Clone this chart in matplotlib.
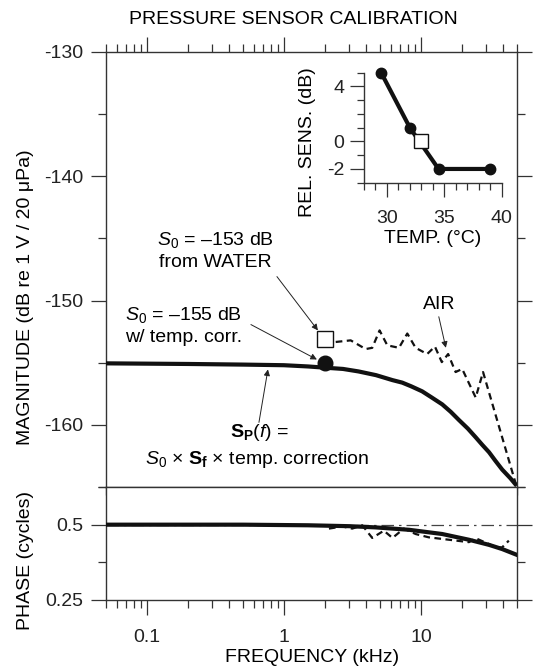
"""Pressure sensor calibration: magnitude and phase response with temperature inset."""

import matplotlib

matplotlib.use("Agg")

import matplotlib.pyplot as plt
from matplotlib.ticker import FixedLocator, MultipleLocator, NullFormatter

plt.rcParams["font.family"] = ["Liberation Sans", "DejaVu Sans"]
plt.rcParams["font.size"] = 14
plt.rcParams["mathtext.fontset"] = "custom"
plt.rcParams["mathtext.rm"] = "Liberation Sans"
plt.rcParams["mathtext.it"] = "Liberation Sans:italic"
plt.rcParams["mathtext.bf"] = "Liberation Sans:bold"
plt.rcParams["axes.unicode_minus"] = False

INK = "#111111"
FRAME = "#333333"

# magnitude, S_P(f) model curve (kHz, dB)
model_freq = [0.05, 0.2, 0.5, 1.0, 1.5, 2.0, 2.7, 3.5, 4.7, 6.2, 7.3, 8.5, 10.2,
              12.0, 14.3, 16.5, 18.9, 22.0, 25.1, 28.0, 31.4, 35.0, 39.2, 45.0, 50.0]
model_mag = [-155.05, -155.1, -155.15, -155.2, -155.3, -155.4, -155.5, -155.7, -156.0,
             -156.4, -156.6, -156.9, -157.3, -157.8, -158.35, -158.95, -159.6, -160.3,
             -161.0, -161.6, -162.2, -162.9, -163.6, -164.3, -164.9]

# magnitude measured in air
air_freq = [2.0, 2.3, 3.07, 3.95, 4.41, 4.99, 5.68, 6.91, 7.95, 9.14, 11.1, 12.65,
            14.2, 15.8, 17.9, 20.0, 25.1, 28.4, 50.0]
air_mag = [-153.1, -153.35, -153.2, -153.9, -153.8, -152.4, -153.6, -153.8, -152.65,
           -153.8, -154.3, -153.7, -154.95, -154.3, -155.75, -155.5, -157.8, -155.75,
           -165.0]

# single-point sensitivities at 2 kHz
s0_freq = 2.0
s0_water = -153.1
s0_corrected = -155.0

# phase (cycles)
model_phase_freq = [0.05, 0.5, 1.5, 3.0, 4.67, 8.2, 14.3, 22.4, 31.4, 39.2, 50.0]
model_phase = [0.5, 0.5, 0.498, 0.495, 0.491, 0.483, 0.469, 0.45, 0.433, 0.419, 0.40]
air_phase_freq = [2.13, 2.67, 3.15, 3.73, 4.41, 5.36, 6.2, 7.5, 9.14, 11.4, 16.0,
                  22.4, 25.1, 35.0, 39.0, 43.8]
air_phase = [0.487, 0.494, 0.487, 0.498, 0.456, 0.48, 0.456, 0.487, 0.469, 0.458,
             0.45, 0.442, 0.455, 0.426, 0.424, 0.447]
reference_phase = 0.5

# inset: relative sensitivity vs temperature
temp_c = [29.5, 32.0, 34.5, 39.0]
rel_sens = [5.0, 1.0, -2.0, -2.0]
water_temp = 33.0
water_rel = 0.0


def style_frame(ax: plt.Axes) -> None:
    for spine in ax.spines.values():
        spine.set_color(FRAME)
        spine.set_linewidth(1.0)
    ax.tick_params(which="both", direction="out", color=FRAME, width=0.9,
                   labelcolor="#222222")
    ax.tick_params(which="major", length=11)
    ax.tick_params(which="minor", length=5.5)


def arrow(ax: plt.Axes, tip: tuple, tail: tuple) -> None:
    ax.annotate("", xy=tip, xytext=tail,
                arrowprops=dict(arrowstyle="-|>", color="#222222", lw=0.7,
                                mutation_scale=9, shrinkA=0, shrinkB=0))


def main() -> None:
    fig = plt.figure(figsize=(5.36, 6.70), dpi=100)
    ax = fig.add_axes([0.1972, 0.2731, 0.7668, 0.6493])
    ph = fig.add_axes([0.1972, 0.1045, 0.7668, 0.1686], sharex=ax)
    ins = fig.add_axes([0.679, 0.7273, 0.257, 0.1642])

    # magnitude panel
    ax.plot(model_freq, model_mag, color=INK, lw=3.0, solid_capstyle="butt", zorder=3)
    ax.plot(air_freq, air_mag, color=INK, lw=1.6, ls=(0, (3, 2)), zorder=3)
    ax.plot([s0_freq], [s0_corrected], "o", color=INK, ms=10.5, zorder=4)
    ax.plot([s0_freq], [s0_water], "s", mfc="white", mec=INK, mew=1.0, ms=11, zorder=5)

    ax.set_xscale("log")
    ax.set_xlim(0.05, 50)
    ax.set_ylim(-165, -130)
    ax.yaxis.set_major_locator(FixedLocator([-160, -150, -140, -130]))
    ax.yaxis.set_minor_locator(FixedLocator([-165, -155, -145, -135]))
    style_frame(ax)
    ax.tick_params(axis="y", which="major", pad=5)
    ax.tick_params(top=True, right=True, which="both")
    ax.tick_params(axis="x", labelbottom=False)

    ax.text(0.314, -146.0, "$\\mathit{S_0}$ = \u2013153 dB\nfrom WATER",
            ha="center", va="center", linespacing=1.3)
    arrow(ax, (1.77, -152.4), (0.889, -148.07))
    ax.text(0.186, -151.97, "$\\mathit{S_0}$ = \u2013155 dB\nw/ temp. corr.",
            ha="center", va="center", linespacing=1.3)
    arrow(ax, (1.74, -154.74), (0.574, -151.93))
    ax.text(13.5, -150.3, "AIR", ha="center", va="center")
    arrow(ax, (15.2, -153.8), (13.5, -151.3))
    ax.text(0.66, -160.6, "$\\mathbf{S_P}(\\mathit{f})$ =", ha="center", va="center")
    ax.text(0.635, -162.77, "$\\mathit{S_0}$ \u00d7 $\\mathbf{S_f}$ \u00d7 temp. correction",
            ha="center", va="center")
    arrow(ax, (0.764, -155.54), (0.657, -159.8))

    # phase panel
    ph.plot([0.05, 50], [reference_phase, reference_phase], color="#444444", lw=0.9,
            ls=(0, (10, 4, 2, 4)), zorder=2)
    ph.plot(air_phase_freq, air_phase, color=INK, lw=1.6, ls=(0, (3, 2)), zorder=3)
    ph.plot(model_phase_freq, model_phase, color=INK, lw=3.0, zorder=4)
    ph.set_ylim(0.25, 0.625)
    ph.yaxis.set_major_locator(FixedLocator([0.25, 0.5]))
    ph.yaxis.set_minor_locator(FixedLocator([0.375, 0.625]))
    ph.set_yticklabels(["0.25", "0.5"])
    style_frame(ph)
    ph.tick_params(axis="y", which="major", pad=5)
    ph.tick_params(right=True, which="both")
    ph.tick_params(axis="x", which="both", top=False)
    ph.set_xticks([0.1, 1, 10], labels=["0.1", "1", "10"])
    ph.xaxis.set_minor_formatter(NullFormatter())
    ph.tick_params(axis="x", which="major", pad=10)

    # temperature inset
    ins.plot(temp_c, rel_sens, "-o", color=INK, lw=3.0, ms=7.5, zorder=3, clip_on=False)
    ins.plot([water_temp], [water_rel], "s", mfc="white", mec=INK, mew=1.0, ms=10,
             zorder=4, clip_on=False)
    ins.set_facecolor("none")
    ins.set_xlim(28, 40)
    ins.set_ylim(-3, 5)
    ins.xaxis.set_major_locator(FixedLocator([30, 35, 40]))
    ins.xaxis.set_minor_locator(MultipleLocator(1))
    ins.yaxis.set_major_locator(FixedLocator([-2, 0, 4]))
    ins.yaxis.set_minor_locator(MultipleLocator(1))
    ins.spines["top"].set_visible(False)
    ins.spines["right"].set_visible(False)
    style_frame(ins)
    ins.tick_params(which="major", length=10)
    ins.tick_params(which="minor", length=5)
    ins.tick_params(axis="x", which="major", pad=10)
    ins.tick_params(axis="y", which="major", pad=4)
    ins.set_xlabel("TEMP. (\u00b0C)", labelpad=2)
    ins.set_ylabel("REL. SENS. (dB)")
    ins.yaxis.set_label_coords(-0.345, 0.37)

    fig.text(0.5466, 0.9716, "PRESSURE SENSOR CALIBRATION", ha="center", va="center")
    fig.text(0.0485, 0.5567, "MAGNITUDE (dB re 1 V / 20 \u03bcPa)", rotation=90,
             ha="center", va="center")
    fig.text(0.0485, 0.164, "PHASE (cycles)", rotation=90, ha="center", va="center")
    fig.text(0.5815, 0.0194, "FREQUENCY (kHz)", ha="center", va="center")

    fig.savefig("out.png", dpi=100)
    plt.close(fig)


if __name__ == "__main__":
    main()
